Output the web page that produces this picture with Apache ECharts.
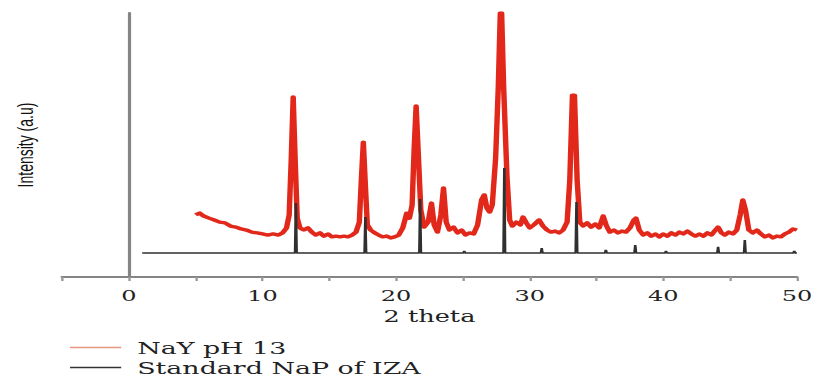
<!DOCTYPE html>
<html>
<head>
<meta charset="utf-8">
<script src="https://cdn.jsdelivr.net/npm/echarts@6/dist/echarts.min.js"></script>
<style>
  html, body { margin: 0; padding: 0; background: #fff; overflow: hidden; }
  /* the figure is laid out narrow and widened horizontally */
  #chart { width: 511px; height: 376px; transform: scaleX(1.5988); transform-origin: 0 0; }
</style>
</head>
<body>
<div id="chart"></div>
<script>
// 2 theta positions of the measured pattern
const nayTheta = [5.0, 5.3, 5.6, 6.0, 6.4, 6.8, 7.2, 7.6, 8.0, 8.4, 8.8, 9.2, 9.6, 10.0, 10.4, 10.8, 11.2, 11.5, 11.8,
  12.0, 12.15, 12.3, 12.45, 12.6, 12.8, 13.1, 13.4, 13.7, 14.0, 14.3, 14.6, 14.9, 15.2, 15.5, 15.8, 16.1, 16.4, 16.7,
  17.0, 17.25, 17.4, 17.55, 17.7, 17.85, 18.1, 18.4, 18.7, 19.0, 19.3, 19.6, 19.9, 20.2, 20.5, 20.8, 21.0, 21.2,
  21.35, 21.5, 21.65, 21.85, 22.1, 22.4, 22.65, 22.85, 23.1, 23.35, 23.55, 23.75, 24.0, 24.3, 24.6, 24.9, 25.2,
  25.5, 25.8, 26.1, 26.4, 26.6, 26.8, 27.0, 27.2, 27.45, 27.65, 27.8, 27.9, 28.05, 28.3, 28.5, 28.7, 29.0, 29.3,
  29.5, 29.75, 30.0, 30.3, 30.7, 31.0, 31.3, 31.6, 31.9, 32.2, 32.5, 32.8, 33.0, 33.2, 33.35, 33.55, 33.75, 34.0,
  34.3, 34.6, 34.9, 35.2, 35.5, 35.75, 36.0, 36.3, 36.6, 36.9, 37.2, 37.5, 37.8, 37.95, 38.2, 38.5, 38.8, 39.1,
  39.4, 39.7, 40.0, 40.3, 40.6, 40.9, 41.2, 41.5, 41.8, 42.1, 42.4, 42.7, 43.0, 43.3, 43.6, 43.9, 44.1, 44.35,
  44.6, 44.9, 45.2, 45.5, 45.75, 45.95, 46.15, 46.4, 46.7, 47.0, 47.3, 47.6, 47.9, 48.2, 48.5, 48.8, 49.1, 49.4,
  49.7, 50.0];
// intensity of the measured pattern (arbitrary units)
const nayIntensity = [23.5, 24.2, 23.1, 22.3, 21.6, 20.8, 20.5, 19.3, 18.9, 18.2, 17.8, 17.0, 16.7, 16.3, 15.9, 16.3, 15.9, 16.7, 18.6,
  23.5, 44.0, 68.2, 44.0, 22.3, 18.6, 17.8, 18.6, 17.0, 15.9, 16.7, 15.5, 16.3, 15.2, 15.5, 15.2, 15.5, 15.2, 15.9,
  17.0, 20.8, 36.7, 51.1, 34.8, 19.7, 17.8, 16.7, 15.9, 15.2, 15.5, 14.8, 15.2, 15.9, 18.6, 24.2, 22.3, 27.3,
  48.1, 64.8, 48.1, 25.4, 18.9, 20.8, 28.0, 19.7, 17.0, 23.5, 33.7, 20.8, 17.8, 18.9, 16.7, 17.8, 15.9,
  16.7, 16.3, 19.7, 29.2, 31.1, 26.1, 24.6, 27.3, 45.0, 72.0, 100, 100, 72.0, 38.0, 21.6, 19.3, 20.8, 19.7,
  22.7, 20.5, 18.6, 19.7, 21.6, 19.3, 17.8, 17.0, 17.4, 16.7, 17.8, 20.8, 36.7, 68.9, 68.9, 36.7, 20.8, 19.3,
  20.5, 18.9, 20.1, 18.6, 23.1, 19.3, 17.0, 17.8, 16.7, 17.4, 17.0, 18.6, 21.6, 22.3, 17.8, 15.9, 16.7, 15.5,
  16.3, 15.2, 16.3, 15.5, 16.7, 15.9, 17.0, 16.3, 17.4, 16.3, 15.5, 16.3, 15.5, 16.7, 15.9, 17.8, 18.9, 16.7,
  15.9, 17.0, 16.3, 17.8, 23.5, 29.2, 25.4, 17.8, 16.7, 17.8, 16.3, 15.2, 15.9, 14.8, 15.5, 15.2, 16.3, 17.0,
  18.2, 17.8];

// reference stick pattern: reflection positions and heights
const refTheta = [12.5, 17.7, 21.8, 25.1, 28.1, 30.9, 33.5, 35.7, 37.9, 40.2, 44.1, 46.1, 49.8];
const refHeight = [28.0, 22.7, 29.5, 9.9, 41.3, 11.0, 28.4, 10.3, 12.1, 9.9, 11.4, 14.0, 9.9];
const refBaseline = 9.1;
const refStart = 1.0;
const refEnd = 50.0;

const xTicks = [0, 10, 20, 30, 40, 50];
const seriesNames = ['NaY pH 13', 'Standard NaP of IZA'];

const nayData = nayTheta.map((t, i) => [t, nayIntensity[i]]);

// each reflection becomes a narrow spike rising from the baseline
const refData = [[refStart, refBaseline]];
refTheta.forEach((t, i) => {
  refData.push([t - 0.06, refBaseline], [t, refHeight[i]], [t + 0.06, refBaseline]);
});
refData.push([refEnd, refBaseline]);

const chart = echarts.init(document.getElementById('chart'), null, { renderer: 'svg' });
chart.setOption({
  animation: false,
  backgroundColor: '#ffffff',
  grid: { left: 38.8, right: 9.2, top: 13, bottom: 99 },
  xAxis: {
    type: 'value',
    min: -5,
    max: 50,
    interval: 5,
    name: '2 theta',
    nameLocation: 'middle',
    nameGap: 31,
    nameTextStyle: { fontFamily: 'DejaVu Serif', fontSize: 16, color: '#222' },
    axisLine: { lineStyle: { color: '#858585', width: 2 } },
    axisTick: { show: true, length: 4, lineStyle: { color: '#9a9a9a', width: 1.5 } },
    axisLabel: {
      margin: 11,
      fontFamily: 'DejaVu Serif',
      fontSize: 15,
      color: '#222',
      formatter: v => (xTicks.indexOf(v) >= 0 ? String(v) : '')
    },
    splitLine: { show: false }
  },
  yAxis: {
    type: 'value',
    min: 0,
    max: 100,
    name: 'Intensity (a.u)',
    nameLocation: 'middle',
    nameRotate: 90,
    nameGap: 16,
    nameTextStyle: { fontFamily: 'Liberation Sans', fontSize: 14, color: '#111' },
    axisLine: { show: true, lineStyle: { color: '#858585', width: 2 } },
    axisTick: { show: false },
    axisLabel: { show: false },
    splitLine: { show: false }
  },
  legend: {
    orient: 'vertical',
    left: 38.8,
    top: 334,
    height: 60,
    icon: 'rect',
    itemWidth: 32,
    itemHeight: 1.3,
    itemGap: 3,
    textStyle: { fontFamily: 'DejaVu Serif', fontSize: 16.8, color: '#222', padding: [0, 0, 0, 5] },
    data: [
      { name: seriesNames[0], itemStyle: { color: '#e8977f' } },
      { name: seriesNames[1], itemStyle: { color: '#333333' } }
    ]
  },
  series: [
    {
      name: seriesNames[0],
      type: 'line',
      data: nayData,
      symbol: 'none',
      lineStyle: { color: '#e2281a', width: 3.4, join: 'round' },
      itemStyle: { color: '#e2281a' }
    },
    {
      name: seriesNames[1],
      type: 'line',
      data: refData,
      symbol: 'none',
      lineStyle: { color: '#303030', width: 1.6 },
      itemStyle: { color: '#303030' }
    }
  ]
});
</script>
</body>
</html>
